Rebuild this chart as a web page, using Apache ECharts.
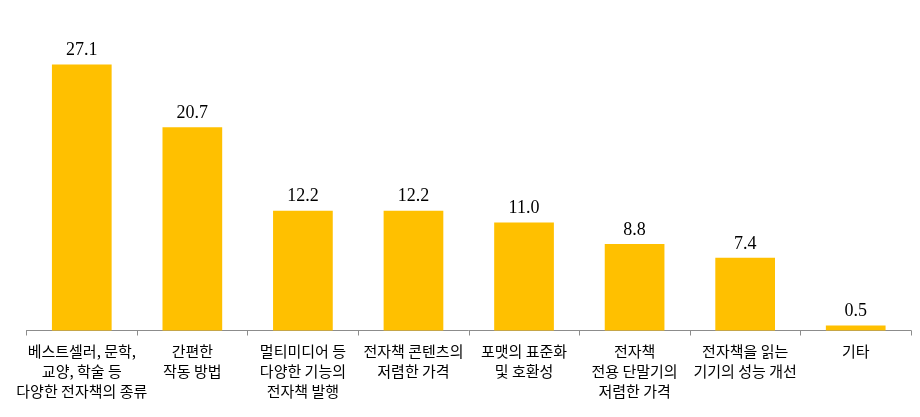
<!DOCTYPE html>
<html><head><meta charset="utf-8">
<script src="https://cdn.jsdelivr.net/npm/echarts@6/dist/echarts.min.js"></script>
<style>html,body{margin:0;padding:0;background:#fff}#c{width:920px;height:417px}</style>
</head><body><div id="c"></div>
<script>
const categories = [
  '베스트셀러, 문학,\n교양, 학술 등\n다양한 전자책의 종류',
  '간편한\n작동 방법',
  '멀티미디어 등\n다양한 기능의\n전자책 발행',
  '전자책 콘텐츠의\n저렴한 가격',
  '포맷의 표준화\n및 호환성',
  '전자책\n전용 단말기의\n저렴한 가격',
  '전자책을 읽는\n기기의 성능 개선',
  '기타'
];
const values = [27.1, 20.7, 12.2, 12.2, 11.0, 8.8, 7.4, 0.5];

const chart = echarts.init(document.getElementById('c'));
chart.setOption({
  animation: false,
  grid: {left: 26.5, right: 9, top: 36, bottom: 86.5, containLabel: false, outerBoundsMode: 'none'},
  xAxis: {
    type: 'category', data: categories,
    axisLine: {lineStyle: {color: '#8c8c8c', width: 1}},
    axisTick: {show: true, length: 5, lineStyle: {color: '#8c8c8c'}},
    axisLabel: {interval: 0, margin: 11, color: '#000', fontSize: 15, lineHeight: 20,
      width: 200, overflow: 'none', hideOverlap: false,
      fontFamily: '"Noto Sans CJK KR", sans-serif'}
  },
  yAxis: {type: 'value', min: 0, max: 30, show: false, splitLine: {show: false}},
  series: [{
    type: 'bar', data: values, barWidth: '54%',
    itemStyle: {color: '#FFC000'},
    label: {show: true, position: 'top', distance: 5, color: '#000', fontSize: 18,
      fontFamily: '"Liberation Serif", "Times New Roman", serif',
      formatter: p => p.value.toFixed(1)}
  }]
});
</script></body></html>
